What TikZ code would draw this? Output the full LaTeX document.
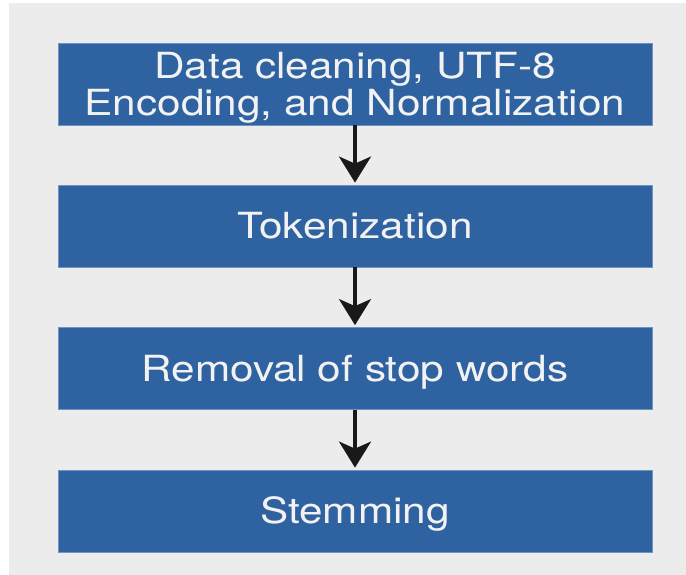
\documentclass[tikz,border=0pt]{standalone}
\usepackage{fontspec}
\newfontfamily\boxfont{TeX Gyre Heros}[FakeStretch=1.175]
\usetikzlibrary{arrows.meta}
\definecolor{panelGrey}{HTML}{ECECEC}
\definecolor{boxBlue}{HTML}{2F62A0}
\definecolor{boxEdge}{HTML}{6F93C2}
\definecolor{boxText}{HTML}{F2F2F2}
\begin{document}
\begin{tikzpicture}[
        x=1pt, y=-1pt,
        stepBox/.style={rectangle, draw=boxEdge, line width=0.8pt, fill=boxBlue, text=boxText, align=center,
            minimum width=594pt, minimum height=82pt, inner sep=0pt,
            font=\boxfont\fontsize{36pt}{37pt}\selectfont},
        oneLine/.style={text height=25.8pt, text depth=0pt},
        twoLine/.style={text height=63.8pt, text depth=0pt},
        flowLine/.style={line width=3.5pt, black!90, shorten >=2pt,
            -{Stealth[length=26pt, width=32pt, inset=7pt]}}
    ]
        \useasboundingbox (0,0) rectangle (686,575);
        \fill[panelGrey] (9,3) rectangle (686,575);

        \node[stepBox, twoLine] (cleaning) at (355, 84) {Data cleaning, UTF-8\\Encoding, and Normalization};
        \node[stepBox, oneLine] (tokens) at (355, 226) {Tokenization};
        \node[stepBox, oneLine] (stopwords) at (355, 368.5) {Removal of stop words};
        \node[stepBox, oneLine] (stemming) at (355, 511) {Stemming};

        \draw[flowLine] (cleaning) -- (tokens);
        \draw[flowLine] (tokens) -- (stopwords);
        \draw[flowLine] (stopwords) -- (stemming);
    \end{tikzpicture}
\end{document}
